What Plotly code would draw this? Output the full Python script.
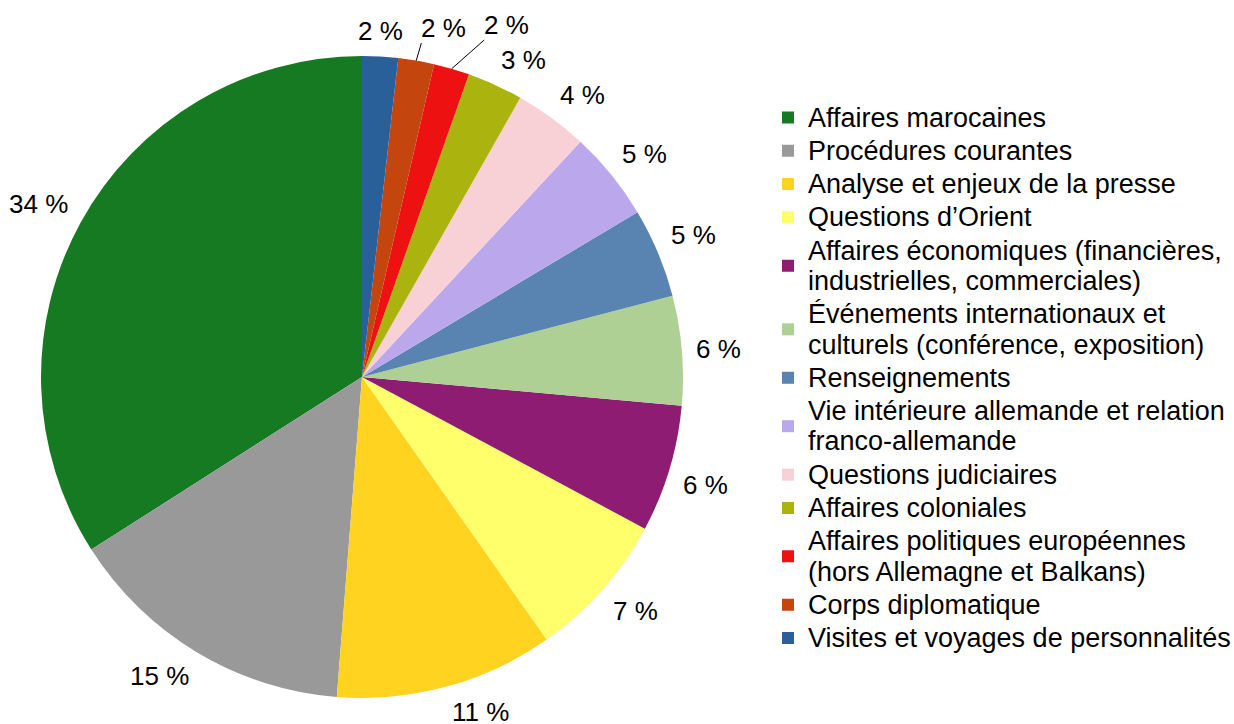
import math
import plotly.graph_objects as go

categories = [
    "Affaires marocaines",
    "Procédures courantes",
    "Analyse et enjeux de la presse",
    "Questions d’Orient",
    "Affaires économiques (financières,<br>industrielles, commerciales)",
    "Événements internationaux et<br>culturels (conférence, exposition)",
    "Renseignements",
    "Vie intérieure allemande et relation<br>franco-allemande",
    "Questions judiciaires",
    "Affaires coloniales",
    "Affaires politiques européennes<br>(hors Allemagne et Balkans)",
    "Corps diplomatique",
    "Visites et voyages de personnalités",
]
values = [34.0, 14.7, 11.0, 7.4, 6.4, 5.5, 4.5, 4.5, 3.7, 2.8, 1.8, 1.8, 1.8]
pct_labels = ["34 %", "15 %", "11 %", "7 %", "6 %", "6 %", "5 %", "5 %", "4 %", "3 %", "2 %", "2 %", "2 %"]
colors = ["#167A22", "#999999", "#FFD320", "#FFFF6B", "#8E1C72", "#AFD095",
          "#5983B0", "#BBA7EB", "#F7D1D5", "#ABB40F", "#EE1111", "#C5450F", "#2A6099"]

# ---- layout geometry -------------------------------------------------------
W, H = 1234, 724
M_T, M_B = 56, 26
DOM_X = (41, 683)               # pie domain, pixels
GLYPH = 27                      # visible legend glyph size
LEG = 23.3                      # legend font size (sets line spacing)
LBL = 26                        # slice label font size
PLOT_H = H - M_T - M_B
CX = (DOM_X[0] + DOM_X[1]) / 2
CY = M_T + PLOT_H / 2
R = min(DOM_X[1] - DOM_X[0], PLOT_H) / 2


def legend_label(name):
    return "<br>".join(f'<span style="font-size:{GLYPH}px">{line}</span>' for line in name.split("<br>"))


def text_width(s, size):
    em = {"%": 0.889, " ": 0.278}
    return sum(em.get(ch, 0.556) for ch in s) * size


def to_paper(px, py):
    return px / W, (H - M_B - py) / PLOT_H


def align(u):
    return max(0.0, min(1.0, (abs(u) - 0.1) / 0.15)) * (1 if u > 0 else -1)


# Plotly places the first slice clockwise of the start angle when direction is
# counterclockwise, so rotate back by the first slice so that it begins at 12 o'clock
total = sum(values)
first_angle = values[0] / total * 360

# ---- slice labels (outside, anchored by the corner nearest the pie) --------
labels = []
cum = 0.0
for v, t in zip(values, pct_labels):
    mid = (cum + v / 2) / total * 2 * math.pi   # CCW from 12 o'clock
    cum += v
    ux, uy = -math.sin(mid), -math.cos(mid)     # pixel direction (y down)
    w, h = text_width(t, LBL), 24
    px, py = CX + (R + 14) * ux, CY + (R + 14) * uy
    labels.append(dict(text=t, ux=ux, uy=uy, x=px + w / 2 * align(ux), y=py + h / 2 * align(uy),
                       w=w, h=h, moved=False))

# resolve overlaps going clockwise from 12 o'clock (i.e. reverse slice order)
order = list(range(len(labels)))[::-1]
GAP = 18
for a, b in zip(order[:-1], order[1:]):
    A, B = labels[a], labels[b]
    if B["y"] > CY:
        break
    overlap_y = abs(A["y"] - B["y"]) < (A["h"] + B["h"]) / 2
    need = A["x"] + A["w"] / 2 + GAP + B["w"] / 2
    if overlap_y and B["x"] < need:
        B["x"] = need
        B["y"] = A["y"] - 3
        B["moved"] = True

annotations, shapes = [], []
for L in labels:
    px, py = to_paper(L["x"], L["y"])
    annotations.append(dict(
        x=px, y=py, xref="paper", yref="paper", text=L["text"], showarrow=False,
        xanchor="center", yanchor="middle",
        font=dict(family="Liberation Sans", size=LBL, color="#000000"),
    ))
    if L["moved"]:
        x0, y0 = to_paper(CX + R * L["ux"], CY + R * L["uy"])
        x1, y1 = to_paper(L["x"] - L["w"] / 2, L["y"] + 15.5)
        shapes.append(dict(type="line", xref="paper", yref="paper", x0=x0, y0=y0, x1=x1, y1=y1,
                           line=dict(color="#000000", width=1)))

fig = go.Figure(go.Pie(
    labels=[legend_label(c) for c in categories],
    values=values,
    textinfo="none",
    marker=dict(colors=colors, line=dict(width=0)),
    sort=False,
    direction="counterclockwise",
    rotation=-first_angle,
    domain=dict(x=[DOM_X[0] / W, DOM_X[1] / W], y=[0, 1]),
    automargin=False,
    hoverinfo="percent",
))
fig.update_layout(
    width=W, height=H,
    margin=dict(l=0, r=0, t=M_T, b=M_B, autoexpand=False),
    paper_bgcolor="white",
    plot_bgcolor="white",
    font=dict(family="Liberation Sans", size=LEG, color="#000000"),
    legend=dict(
        x=768 / W, xanchor="left",
        y=0.938, yanchor="top",
        font=dict(family="Liberation Sans", size=LEG, color="#000000"),
        bgcolor="rgba(0,0,0,0)",
        itemwidth=30,
    ),
    annotations=annotations,
    shapes=shapes,
    showlegend=True,
)
fig.write_html("out.html", config={"displayModeBar": False},
               post_script="document.body.style.margin='0px';")
